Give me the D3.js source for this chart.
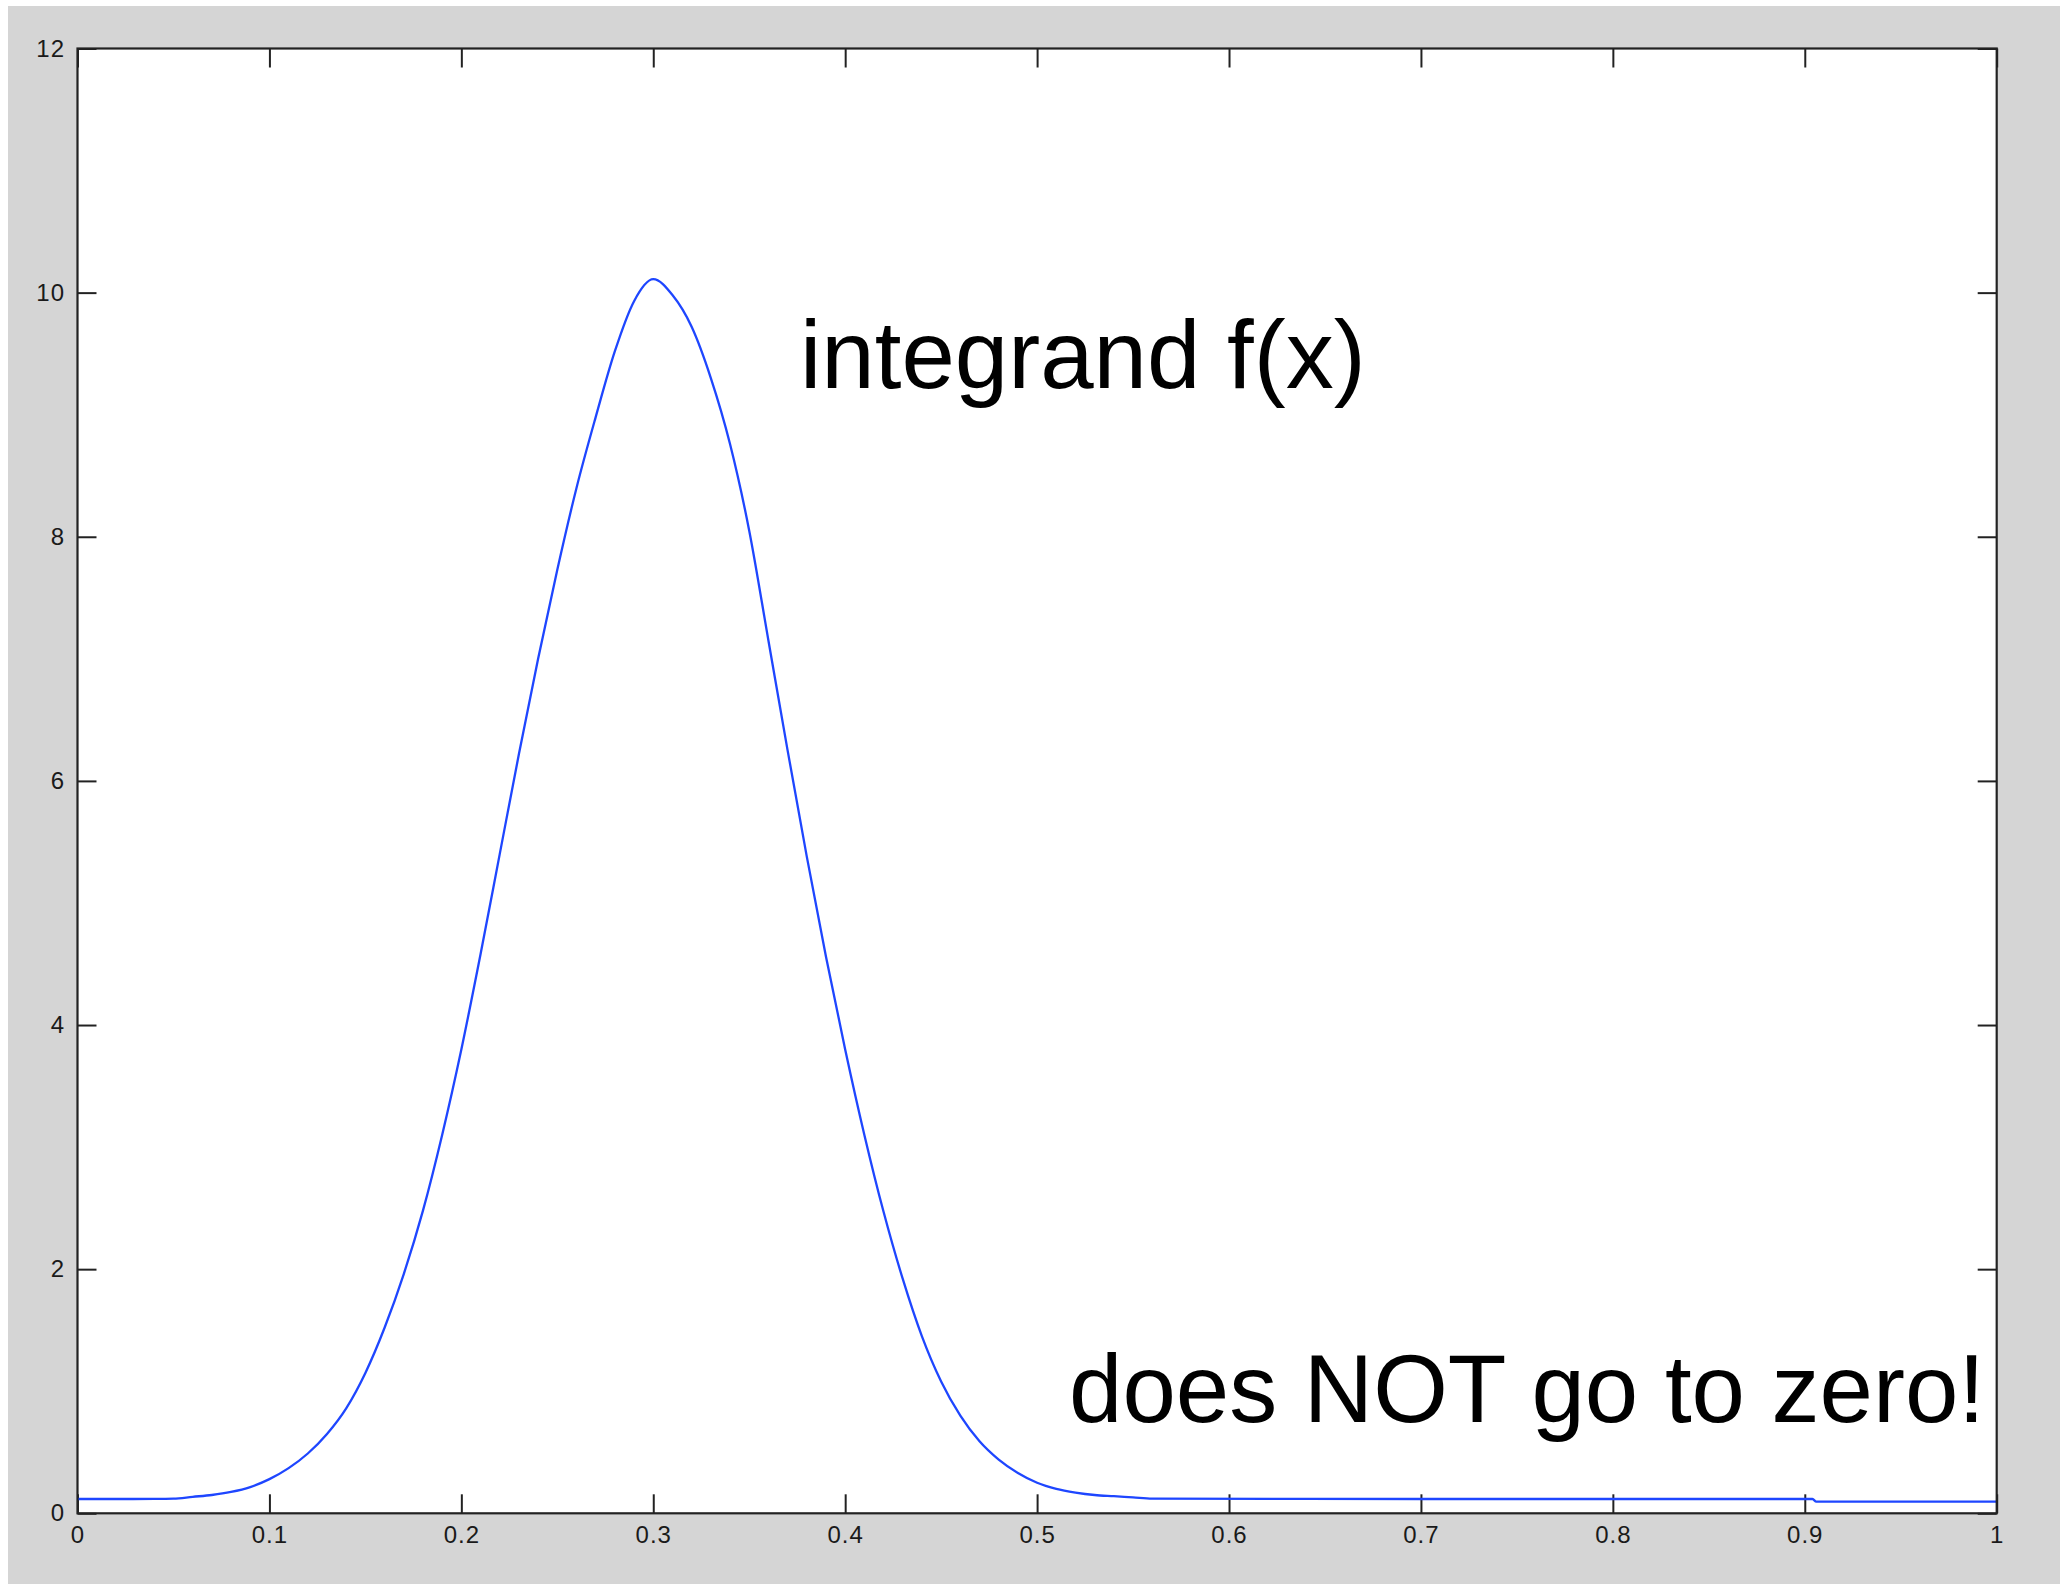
<!DOCTYPE html>
<html>
<head>
<meta charset="utf-8">
<script src="https://cdn.jsdelivr.net/npm/d3@7"></script>
<style>
  html, body { margin: 0; padding: 0; background: #ffffff; }
  svg { display: block; }
</style>
</head>
<body>
<svg id="chart" width="2060" height="1584"></svg>
<script>
// ---- data ----
const xValues = [0.00, 0.02, 0.04, 0.05, 0.06, 0.07, 0.08, 0.09, 0.10, 0.11, 0.12, 0.13, 0.14, 0.15,
  0.16, 0.17, 0.18, 0.19, 0.20, 0.21, 0.22, 0.23, 0.24, 0.25, 0.26, 0.27, 0.28, 0.29, 0.30,
  0.31, 0.32, 0.33, 0.34, 0.35, 0.36, 0.37, 0.38, 0.39, 0.40, 0.41, 0.42, 0.43, 0.44,
  0.45, 0.46, 0.47, 0.48, 0.49, 0.50, 0.51, 0.52, 0.53, 0.54, 0.55, 0.56, 0.70, 0.80, 0.904,
  0.906, 1.00];
const fValues = [0.117, 0.117, 0.118, 0.12, 0.135, 0.15, 0.175, 0.215, 0.28, 0.37, 0.49, 0.65, 0.86, 1.15,
  1.52, 1.96, 2.48, 3.10, 3.80, 4.58, 5.40, 6.22, 7.00, 7.73, 8.40, 8.98, 9.52, 9.93, 10.11,
  9.98, 9.72, 9.30, 8.76, 8.05, 7.15, 6.25, 5.38, 4.56, 3.80, 3.10, 2.47, 1.92, 1.45,
  1.08, 0.80, 0.59, 0.44, 0.33, 0.25, 0.20, 0.17, 0.15, 0.14, 0.13, 0.12, 0.117, 0.117, 0.117,
  0.095, 0.095];
const xTicks = [0, 0.1, 0.2, 0.3, 0.4, 0.5, 0.6, 0.7, 0.8, 0.9, 1];
const xTickLabels = ["0", "0.1", "0.2", "0.3", "0.4", "0.5", "0.6", "0.7", "0.8", "0.9", "1"];
const yTicks = [0, 2, 4, 6, 8, 10, 12];
const yTickLabels = ["0", "2", "4", "6", "8", "10", "12"];
const annotations = ["integrand f(x)", "does NOT go to zero!"];

(function () {
  // ---- layout ----
  const W = 2060, H = 1584;
  const pLeft = 77.5, pRight = 1996.7, pTop = 48.5, pBottom = 1513.3;
  const tickLen = 19;

  const svg = d3.select("#chart");

  svg.append("rect").attr("x", 8).attr("y", 6).attr("width", W - 8).attr("height", H - 6)
    .attr("fill", "#d5d5d5");
  svg.append("rect").attr("x", pLeft).attr("y", pTop).attr("width", pRight - pLeft).attr("height", pBottom - pTop)
    .attr("fill", "#ffffff");

  const x = d3.scaleLinear().domain([0, 1]).range([pLeft, pRight]);
  const y = d3.scaleLinear().domain([0, 12]).range([pBottom, pTop]);

  const labelFont = "'Liberation Sans Narrow', 'Liberation Sans', Arial, sans-serif";

  function styleAxis(g, showLabels) {
    g.select(".domain").remove();
    g.selectAll(".tick line").attr("stroke", "#222").attr("stroke-width", 2);
    g.selectAll(".tick text")
      .attr("fill", "#1a1a1a")
      .style("font-family", labelFont)
      .style("font-size", "24px")
      .style("letter-spacing", "1px");
    if (!showLabels) g.selectAll(".tick text").remove();
  }

  const xAxisB = d3.axisBottom(x).tickValues(xTicks)
    .tickFormat((d, i) => xTickLabels[i]).tickSizeInner(-tickLen).tickSizeOuter(0).tickPadding(13);
  svg.append("g").attr("transform", `translate(0,${pBottom})`).call(xAxisB).call(g => styleAxis(g, true));

  const xAxisT = d3.axisTop(x).tickValues(xTicks).tickSizeInner(-tickLen).tickSizeOuter(0);
  svg.append("g").attr("transform", `translate(0,${pTop})`).call(xAxisT).call(g => styleAxis(g, false));

  const yAxisL = d3.axisLeft(y).tickValues(yTicks)
    .tickFormat((d, i) => yTickLabels[i]).tickSizeInner(-tickLen).tickSizeOuter(0).tickPadding(12.5);
  svg.append("g").attr("transform", `translate(${pLeft},0)`).call(yAxisL).call(g => styleAxis(g, true));

  const yAxisR = d3.axisRight(y).tickValues(yTicks).tickSizeInner(-tickLen).tickSizeOuter(0);
  svg.append("g").attr("transform", `translate(${pRight},0)`).call(yAxisR).call(g => styleAxis(g, false));

  // curve
  const pts = xValues.map((v, i) => [v, fValues[i]]);
  const line = d3.line().x(d => x(d[0])).y(d => y(d[1])).curve(d3.curveMonotoneX);
  svg.append("path").datum(pts).attr("d", line)
    .attr("fill", "none").attr("stroke", "#1e46ff").attr("stroke-width", 2.3)
    .attr("stroke-linejoin", "round");

  // frame
  svg.append("rect").attr("x", pLeft).attr("y", pTop).attr("width", pRight - pLeft).attr("height", pBottom - pTop)
    .attr("fill", "none").attr("stroke", "#222").attr("stroke-width", 2.2);

  // annotations
  const annFont = "'Liberation Sans', Arial, Helvetica, sans-serif";
  svg.append("text").attr("x", 800).attr("y", 388).text(annotations[0])
    .attr("fill", "#000").style("font-family", annFont).style("font-size", "96px");
  svg.append("text").attr("x", 1069).attr("y", 1422).text(annotations[1])
    .attr("fill", "#000").style("font-family", annFont).style("font-size", "96px");
})();
</script>
</body>
</html>
